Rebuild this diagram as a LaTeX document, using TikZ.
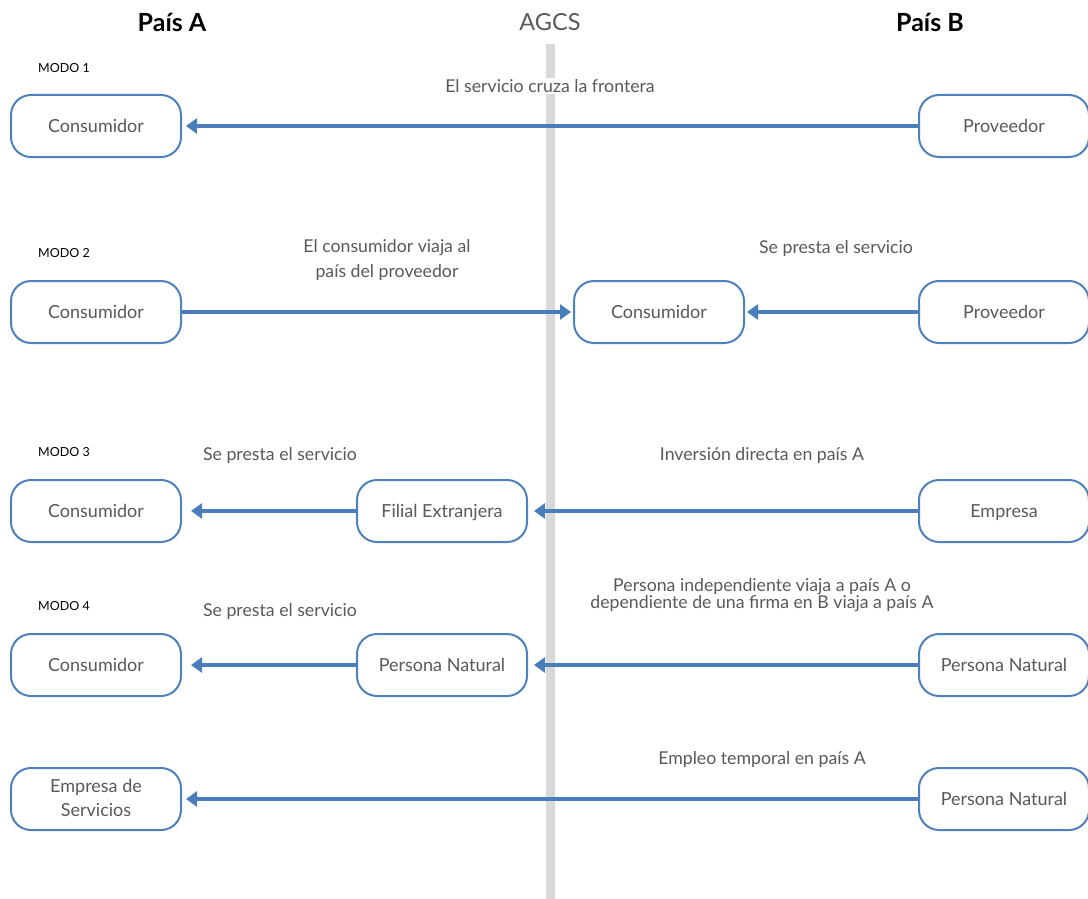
\documentclass[tikz,border=0pt]{standalone}
\usepackage{fontspec}
\setmainfont{Lato}
\usetikzlibrary{arrows.meta}
\definecolor{boxblue}{HTML}{4F81BD}
\definecolor{arrblue}{HTML}{4A7EBB}
\definecolor{txtgray}{HTML}{595959}
\definecolor{bargray}{HTML}{D9D9D9}
\newcommand\bxstrut{\rule[-3pt]{0pt}{19pt}}
\tikzset{
  stepbox/.style={draw=boxblue, line width=2pt, rounded corners=20pt, fill=white,
    minimum width=170pt, minimum height=62pt, text=txtgray, align=center,
    font=\fontsize{18}{24}\selectfont, inner sep=0pt,
    execute at begin node=\bxstrut, execute at end node=\bxstrut},
  lbl/.style={text=txtgray, align=center, font=\fontsize{17.7}{25}\selectfont, inner sep=1pt},
  modo/.style={text=black, anchor=west, font=\fontsize{12.5}{15}\selectfont, inner sep=0pt},
  head/.style={font=\fontsize{25}{30}\selectfont\bfseries, text=black},
  flow/.style={draw=arrblue, line width=4.5pt, -{Triangle[length=11pt,width=15pt]}},
}
\begin{document}
\begin{tikzpicture}[x=1pt,y=-1pt]
\useasboundingbox (0,0) rectangle (1088,899);
% border bar
\fill[bargray] (546,44) rectangle (555,899);
% headers
\node[head] (hA) at (172,22) {País A};
\node[font=\fontsize{23.5}{30}\selectfont, text=txtgray] (hG) at (550,22) {AGCS};
\node[head] (hB) at (930,22) {País B};
% modo labels
\node[modo] (m1) at (38,68) {MODO 1};
\node[modo] (m2) at (38,253) {MODO 2};
\node[modo] (m3) at (38,452) {MODO 3};
\node[modo] (m4) at (38,606) {MODO 4};
% row 1
\node[stepbox] (c1) at (96,126) {Consumidor};
\node[stepbox] (p1) at (1004,126) {Proveedor};
\node[lbl, fill=white] (l1) at (550,86) {El servicio cruza la frontera};
\draw[flow, shorten >=4pt] (p1.west) -- (c1.east);
% row 2
\node[stepbox] (c2) at (96,312) {Consumidor};
\node[stepbox] (m2c) at (659,312) {Consumidor};
\node[stepbox] (p2) at (1004,312) {Proveedor};
\node[lbl] (l2a) at (387,260) {El consumidor viaja al\\país del proveedor};
\node[lbl] (l2b) at (836,248) {Se presta el servicio};
\draw[flow, shorten >=2pt] (c2.east) -- (m2c.west);
\draw[flow, shorten >=2pt] (p2.west) -- (m2c.east);
% row 3
\node[stepbox] (c3) at (96,511) {Consumidor};
\node[stepbox] (f3) at (442,511) {Filial Extranjera};
\node[stepbox] (e3) at (1004,511) {Empresa};
\node[lbl] (l3a) at (280,455) {Se presta el servicio};
\node[lbl] (l3b) at (762,455) {Inversión directa en país A};
\draw[flow, shorten >=9pt] (f3.west) -- (c3.east);
\draw[flow, shorten >=6pt] (e3.west) -- (f3.east);
% row 4
\node[stepbox] (c4) at (96,665) {Consumidor};
\node[stepbox] (n4) at (442,665) {Persona Natural};
\node[stepbox] (p4) at (1004,665) {Persona Natural};
\node[lbl] (l4a) at (280,611) {Se presta el servicio};
\node[lbl, font=\fontsize{17.7}{17}\selectfont] (l4b) at (762,595) {Persona independiente viaja a país A o\\dependiente de una firma en B viaja a país A};
\draw[flow, shorten >=9pt] (n4.west) -- (c4.east);
\draw[flow, shorten >=6pt] (p4.west) -- (n4.east);
% row 5
\node[stepbox] (c5) at (96,799) {Empresa de\\Servicios};
\node[stepbox] (p5) at (1004,799) {Persona Natural};
\node[lbl] (l5) at (762,759) {Empleo temporal en país A};
\draw[flow, shorten >=4pt] (p5.west) -- (c5.east);
\end{tikzpicture}
\end{document}
